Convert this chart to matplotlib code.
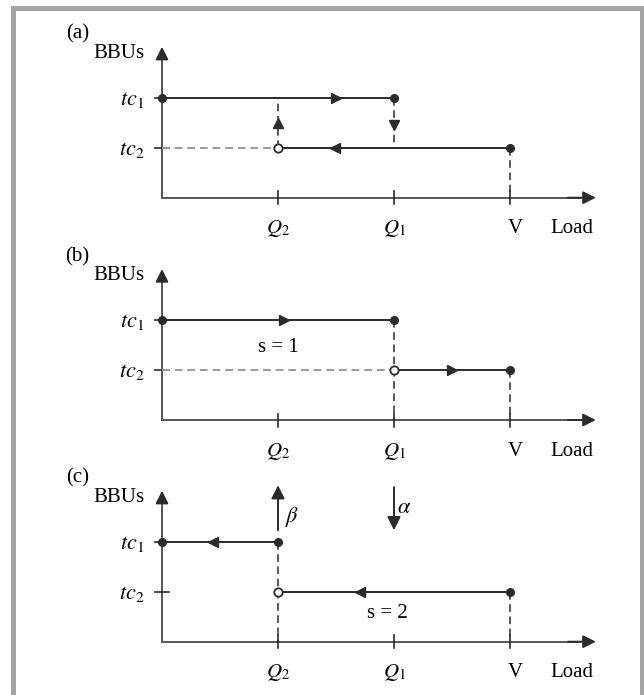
import matplotlib.pyplot as plt
from matplotlib.patches import Rectangle

plt.rcParams['font.family'] = 'Liberation Serif'
plt.rcParams['mathtext.fontset'] = 'stix'

# values (load in units of Q2, BBU level in units of tc2)
q2, q1, v = 1.0, 2.0, 3.0
tc1, tc2 = 2.0, 1.0
x_ticks = [q2, q1, v]
x_labels = ['$Q_2$', '$Q_1$', 'V']
y_ticks = [tc1, tc2]
y_labels = ['$tc_1$', '$tc_2$']
panel_names = ['(a)', '(b)', '(c)']

# panel contents: segments as (x0, y0, x1, y1)
solid = [
    [(0, tc1, q1, tc1), (q2, tc2, v, tc2)],
    [(0, tc1, q1, tc1), (q1, tc2, v, tc2)],
    [(0, tc1, q2, tc1), (q2, tc2, v, tc2)],
]
grey_dash = [
    [(0, tc2, q2, tc2)],
    [(0, tc2, q1, tc2)],
    [],
]
dark_dash = [
    [(q2, tc2, q2, tc1), (q1, tc1, q1, 1.1), (v, tc2, v, 0)],
    [(q1, tc1, q1, 0), (v, tc2, v, 0)],
    [(q2, tc1, q2, 0), (v, tc2, v, 0)],
]
dots = [
    [(0, tc1), (q1, tc1), (v, tc2)],
    [(0, tc1), (q1, tc1), (v, tc2)],
    [(0, tc1), (q2, tc1), (v, tc2)],
]
rings = [[(q2, tc2)], [(q1, tc2)], [(q2, tc2)]]
# direction heads: (x, y, marker)
heads = [
    [(1.5, tc1, '>'), (1.49, tc2, '<'), (q2, 1.5, '^'), (q1, 1.45, 'v')],
    [(1.05, tc1, '>'), (2.5, tc2, '>')],
    [(0.44, tc1, '<'), (1.71, tc2, '<')],
]
s_text = [None, ('s = 1', 1.0, 1.45), ('s = 2', 1.94, 0.57)]

W, H = 644, 695
X0, XS, YS = 162, 116, 50
bands = [(0, 235, 197.7), (235, 460, 420), (460, 695, 641.7)]

LINE = '#2b2b2b'
AXC = '#555555'
GREY = '#9a9a9a'
FS = 15

fig = plt.figure(figsize=(W / 100, H / 100), dpi=100)

for i, (top, bot, oy) in enumerate(bands):
    ax = fig.add_axes([0, 1 - bot / H, 1, (bot - top) / H])
    ax.set_xlim(-X0 / XS, (W - X0) / XS)
    ax.set_ylim((oy - bot) / YS, (oy - top) / YS)
    ax.axis('off')

    # axes with arrows
    ax.plot([0, 0], [0, 2.9], color=AXC, lw=1.4)
    ax.plot([0, 3.6], [0, 0], color=AXC, lw=1.4)
    arr = dict(arrowstyle='-|>', color=LINE, lw=1.4, mutation_scale=19,
               shrinkA=0, shrinkB=0)
    ax.annotate('', xy=(0, 3.02), xytext=(0, 2.8), arrowprops=arr)
    ax.annotate('', xy=(3.74, 0), xytext=(3.5, 0), arrowprops=arr)
    for x in x_ticks:
        ax.plot([x, x], [-0.13, 0.13], color=LINE, lw=1.2)
    for y in y_ticks:
        ax.plot([-0.06, 0.06], [y, y], color=LINE, lw=1.2)

    for x, lab in zip(x_ticks, x_labels):
        dx = 0.05 if lab == 'V' else 0.0
        ax.text(x + dx, -0.62, lab, ha='center', va='center', fontsize=FS)
    ax.text(3.53, -0.62, 'Load', ha='center', va='center', fontsize=FS)
    for y, lab in zip(y_ticks, y_labels):
        ax.text(-0.15, y - 0.04, lab, ha='right', va='center', fontsize=FS + 1)
    ax.text(-0.37, 2.88, 'BBUs', ha='center', va='center', fontsize=FS)
    ax.text(-0.73, 3.27, panel_names[i], ha='center', va='center', fontsize=FS)

    for x0, y0, x1, y1 in grey_dash[i]:
        ax.plot([x0, x1], [y0, y1], color=GREY, lw=1.4, ls=(0, (4, 2.5)))
    for x0, y0, x1, y1 in dark_dash[i]:
        ax.plot([x0, x1], [y0, y1], color=LINE, lw=1.1, ls=(0, (5, 3)))
    for x0, y0, x1, y1 in solid[i]:
        ax.plot([x0, x1], [y0, y1], color=LINE, lw=1.4)
    for x, y, m in heads[i]:
        ax.plot(x, y, marker=m, ms=7, color=LINE, mec=LINE)
    for x, y in dots[i]:
        ax.plot(x, y, 'o', ms=5.5, color=LINE)
    for x, y in rings[i]:
        ax.plot(x, y, 'o', ms=6, mfc='white', mec=LINE, mew=1.3)

    if s_text[i]:
        t, sx, sy = s_text[i]
        ax.text(sx, sy, t, ha='center', va='center', fontsize=FS)

    if i == 2:
        big = dict(arrowstyle='-|>', color=LINE, lw=1.4, mutation_scale=20,
                   shrinkA=0, shrinkB=0)
        ax.annotate('', xy=(q2, 3.13), xytext=(q2, 2.23), arrowprops=big)
        ax.annotate('', xy=(q1, 2.23), xytext=(q1, 3.09), arrowprops=big)
        ax.text(q2 + 0.12, 2.49, r'$\beta$', ha='center', va='center', fontsize=FS + 1)
        ax.text(q1 + 0.09, 2.67, r'$\alpha$', ha='center', va='center', fontsize=FS + 1)

# grey frame
frame = '#a3a3a3'
for x, y, w, h in [(11, 6, 5, 689), (11, 6, 633, 5), (640, 6, 4, 689)]:
    fig.add_artist(Rectangle((x / W, 1 - (y + h) / H), w / W, h / H,
                             transform=fig.transFigure, color=frame, lw=0))

fig.savefig('out.png', dpi=100)
